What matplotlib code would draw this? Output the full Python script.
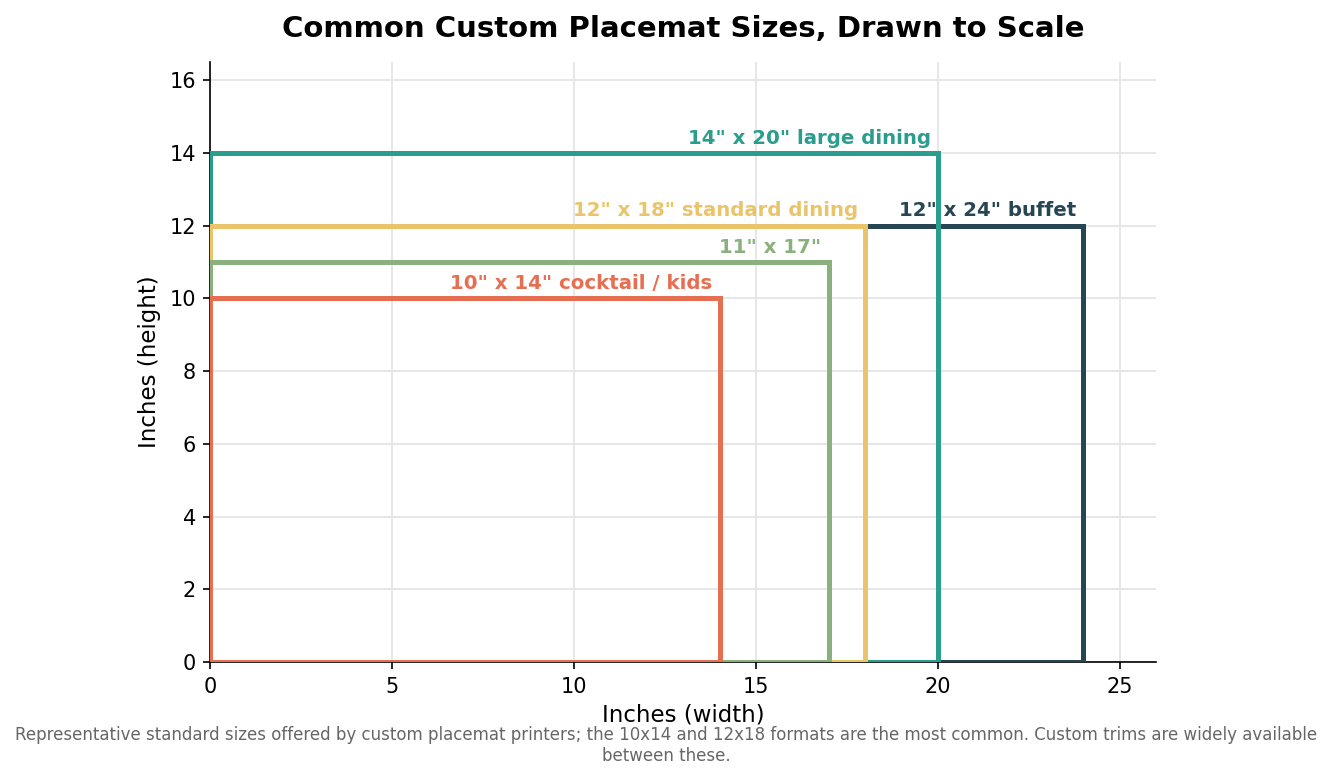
import matplotlib
matplotlib.use("Agg")
import matplotlib.pyplot as plt
from matplotlib.patches import Rectangle

labels = ['12" x 24" buffet', '14" x 20" large dining', '12" x 18" standard dining',
          '11" x 17"', '10" x 14" cocktail / kids']
widths = [24, 20, 18, 17, 14]
heights = [12, 14, 12, 11, 10]
colors = ['#264653', '#2A9D8F', '#E9C46A', '#8AB17D', '#E76F51']

fig = plt.figure(figsize=(1332/150, 777/150), dpi=150)
ax = fig.add_axes([0.1580, 0.148, 0.7100, 0.772])

for w, h, c, lab in zip(widths, heights, colors, labels):
    ax.add_patch(Rectangle((0, 0), w, h, fill=False, edgecolor=c, linewidth=2.4, zorder=3))
    ax.text(w - 0.2, h + 0.15, lab, ha='right', va='bottom', color=c,
            fontsize=9.5, fontweight='bold', zorder=4)

ax.set_xlim(0, 26)
ax.set_ylim(0, 16.5)
ax.set_xticks([0, 5, 10, 15, 20, 25])
ax.set_yticks(range(0, 17, 2))
ax.grid(True, color='#e3e3e3', linewidth=0.8, zorder=0)
ax.set_axisbelow(True)
for s in ['top', 'right']:
    ax.spines[s].set_visible(False)
ax.tick_params(labelsize=10)
ax.set_xlabel('Inches (width)', fontsize=11, labelpad=3.5)
ax.set_ylabel('Inches (height)', fontsize=11)
ax.set_title('Common Custom Placemat Sizes, Drawn to Scale', fontsize=14,
             fontweight='bold', pad=12)
fig.text(0.5, 0.016,
         'Representative standard sizes offered by custom placemat printers; the 10x14 and 12x18 formats are the most common. Custom trims are widely available\nbetween these.',
         ha='center', va='bottom', fontsize=8, color='#666666')

fig.savefig('out.png', dpi=150)
